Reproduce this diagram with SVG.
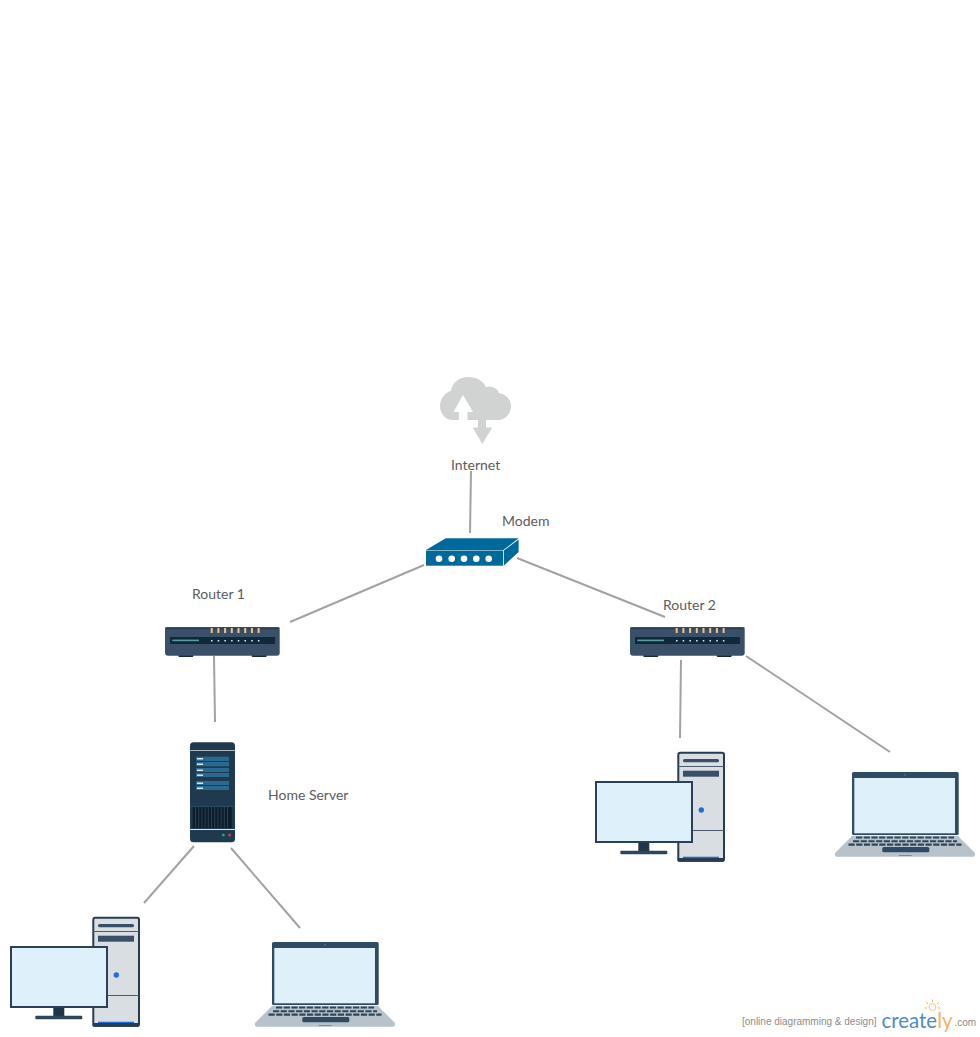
<svg xmlns="http://www.w3.org/2000/svg" xmlns:xlink="http://www.w3.org/1999/xlink" width="980" height="1037" viewBox="0 0 980 1037">
<style>
text{font-family:"Lato","Liberation Sans",sans-serif;font-size:14px;fill:#5c5c5c}
.c{stroke:#a2a2a2;stroke-width:2;fill:none}
.lb{font-family:"Liberation Sans",Arial,sans-serif;font-size:10px;fill:#8c8c8c}
.br{font-family:"Lato","Liberation Sans",sans-serif;font-size:22px;fill:#4b8cc8}
</style>
<defs>
<g id="router">
<rect x="178.300" y="654" width="15" height="3" rx="1" fill="#14293b"/>
<rect x="251.700" y="654" width="15" height="3" rx="1" fill="#14293b"/>
<rect x="165" y="627.300" width="114.700" height="28.400" rx="3" fill="#3a5068"/>
<rect x="165" y="627.300" width="114.700" height="2" rx="1" fill="#2c4058"/>
<rect x="170" y="637" width="105" height="7" fill="#0e2a3a"/>
<rect x="172.300" y="639.600" width="26.700" height="1.600" fill="#5b9ba3"/>
<g fill="#eec48c">
<rect x="210.700" y="628" width="2" height="5"/><rect x="217.400" y="628" width="2" height="5"/><rect x="224.100" y="628" width="2" height="5"/><rect x="230.800" y="628" width="2" height="5"/><rect x="237.500" y="628" width="2" height="5"/><rect x="244.200" y="628" width="2" height="5"/><rect x="250.900" y="628" width="2" height="5"/><rect x="257.600" y="628" width="2" height="5"/>
</g>
<g fill="#e6edf0">
<rect x="211" y="640" width="1.500" height="1.500"/><rect x="217.700" y="640" width="1.500" height="1.500"/><rect x="224.400" y="640" width="1.500" height="1.500"/><rect x="231.100" y="640" width="1.500" height="1.500"/><rect x="237.800" y="640" width="1.500" height="1.500"/><rect x="244.500" y="640" width="1.500" height="1.500"/><rect x="251.200" y="640" width="1.500" height="1.500"/><rect x="257.900" y="640" width="1.500" height="1.500"/>
</g>
</g>
<g id="pc">
<rect x="93.300" y="917.700" width="45.700" height="108" rx="2" fill="#d9dee3" stroke="#263c50" stroke-width="2"/>
<rect x="98" y="924" width="36" height="3.300" rx="1.500" fill="#3a5068"/>
<rect x="93" y="931" width="46" height="1" fill="#4a5c6c"/>
<rect x="98" y="935.700" width="36" height="6" fill="#3a5068"/>
<circle cx="116.300" cy="975" r="2.700" fill="#1f6fd6"/>
<rect x="93" y="995" width="46" height="1" fill="#4a5c6c"/>
<rect x="98" y="1021.700" width="36" height="1.300" fill="#1f6fd6"/>
<rect x="92.500" y="1023" width="47" height="3.700" rx="1.500" fill="#263c50"/>
<rect x="53.300" y="1007" width="11" height="10" fill="#1f3648"/>
<rect x="35.300" y="1015.700" width="47" height="3.600" rx="1" fill="#2f4659"/>
<rect x="11" y="947" width="96" height="60" fill="#def0f9" stroke="#2a4056" stroke-width="2"/>
</g>
<g id="laptop">
<rect x="272" y="942" width="106.700" height="63" rx="1.500" fill="#2f4b64"/>
<rect x="274.300" y="948" width="100.700" height="55.300" fill="#def0f9"/>
<circle cx="325" cy="944.800" r="0.900" fill="#5d7488"/>
<path d="M272.300 1005.700H377.700L395 1023V1025Q395 1026.700 393 1026.700H257Q255 1026.700 255 1025V1023Z" fill="#b7c2ca"/>
<path d="M276 1007.500h98M273 1011.200h104M268.500 1014.600h113" stroke="#2f4659" stroke-width="2.100" stroke-dasharray="6.200 1.500" fill="none"/>
<rect x="302.300" y="1017" width="47" height="5.300" rx="1.500" fill="#2f4b64"/>
<rect x="319" y="1025" width="12.700" height="1" fill="#7d8a94"/>
</g>
</defs>
<rect width="980" height="1037" fill="#fff"/>
<g id="connectors">
<path class="c" d="M471 471L470 533"/>
<path class="c" d="M424 565L290 622"/>
<path class="c" d="M517 558L665 617"/>
<path class="c" d="M214 656L215 722"/>
<path class="c" d="M681 660L680 738"/>
<path class="c" d="M746 656L890 752"/>
<path class="c" d="M194 846L144 903"/>
<path class="c" d="M231 848L300 928"/>
</g>
<g id="internet">
<path d="M453 420C444 420 440 412 440 406C440 398 446 392 451 391C452 382 460 377 468 377C477 377 483 381 486 387C492 385 498 389 499 393C506 394 511 400 511 406C511 414 505 420 498 420H486V427.500H492.300L482.300 444L472.700 427.500H478V420H467.500V412H473L463 395L453.500 412H459V420Z" fill="#d1d3d2"/>
<text x="451" y="470">Internet</text>
</g>
<g id="modem">
<path d="M426 550L445.700 538.300H518.600L503.300 550Z" fill="#00699b"/>
<path d="M503.800 550.500L518.600 539.500V552L503.800 565.700Z" fill="#00699b"/>
<rect x="426" y="550.500" width="77" height="15.200" fill="#00699b"/>
<g fill="#fff"><circle cx="439" cy="558.700" r="3.300"/><circle cx="451.700" cy="558.700" r="3.300"/><circle cx="464" cy="558.700" r="3.300"/><circle cx="476.300" cy="558.700" r="3.300"/><circle cx="488.700" cy="558.700" r="3.300"/></g>
<text x="502" y="526">Modem</text>
</g>
<g id="router1"><use href="#router"/><text x="192" y="599">Router 1</text></g>
<g id="router2"><use href="#router" x="465"/><text x="663" y="610">Router 2</text></g>
<g id="server">
<rect x="190" y="742.300" width="45" height="100" rx="3.500" fill="#1f3a4e"/>
<rect x="190" y="750" width="45" height="1" fill="#aab6bf"/>
<g fill="#2a6a90"><rect x="196" y="756.700" width="33" height="4.300"/><rect x="196" y="762" width="33" height="4.300"/><rect x="196" y="768" width="33" height="4"/><rect x="196" y="773" width="33" height="4"/><rect x="196" y="781" width="33" height="4"/><rect x="196" y="786" width="33" height="4"/></g>
<g fill="#d8e6ee"><rect x="197" y="758" width="6" height="1.500"/><rect x="197" y="763.500" width="6" height="1.500"/><rect x="197" y="769.500" width="6" height="1.500"/><rect x="197" y="774.500" width="6" height="1.500"/><rect x="197" y="782.500" width="6" height="1.500"/><rect x="197" y="787.500" width="6" height="1.500"/></g>
<rect x="190" y="806" width="45" height="0.800" fill="#2a5068"/>
<rect x="192.700" y="807" width="39" height="21" fill="#0c1c28"/>
<path d="M195.500 807v21M198.700 807v21M201.900 807v21M205.100 807v21M208.300 807v21M211.500 807v21M214.700 807v21M217.900 807v21M221.100 807v21M224.300 807v21M227.500 807v21" stroke="#28485c" stroke-width="0.900"/>
<rect x="190" y="829" width="45" height="1" fill="#dfe7ec"/>
<circle cx="223.300" cy="835" r="1.500" fill="#2a9d6e"/>
<circle cx="229.700" cy="835" r="1.500" fill="#c93a50"/>
<text x="268" y="800">Home Server</text>
</g>
<g id="pc1"><use href="#pc"/></g>
<g id="pc2"><use href="#pc" x="585" y="-165"/></g>
<g id="laptop1"><use href="#laptop"/></g>
<g id="laptop2"><use href="#laptop" x="580" y="-170"/></g>
<g id="watermark">
<text class="lb" x="742" y="1025">[online diagramming &amp; design]</text>
<text class="br" x="881.500" y="1027.500" textLength="71" lengthAdjust="spacingAndGlyphs">create<tspan fill="#f5b262">ly</tspan></text>
<text class="lb" x="954.500" y="1026">.com</text>
<circle cx="932.500" cy="1007" r="3.500" fill="none" stroke="#f5c98a" stroke-width="1"/>
<path d="M932.500 999.500v2.500M926 1002l2 2M939 1002l-2 2M924.500 1008h2.500M938 1008h2.500" stroke="#f5b262" stroke-width="1" fill="none"/>
</g>
</svg>
